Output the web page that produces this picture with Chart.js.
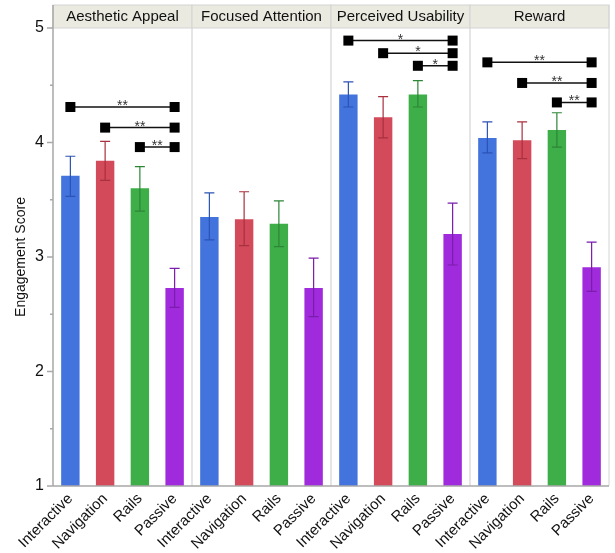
<!DOCTYPE html>
<html>
<head>
<meta charset="utf-8">
<script src="https://cdn.jsdelivr.net/npm/chart.js@4"></script>
<style>
  html, body { margin: 0; padding: 0; background: #fff; }
  #wrap { width: 615px; height: 553px; position: relative; }
</style>
</head>
<body>
<div id="wrap"><canvas id="c" width="615" height="553"></canvas></div>
<script>
(function () {
  'use strict';

  // ---- data ----
  var panels = ['Aesthetic Appeal', 'Focused Attention', 'Perceived Usability', 'Reward'];
  var conditions = ['Interactive', 'Navigation', 'Rails', 'Passive'];
  var means = [
    3.71, 3.84, 3.60, 2.73,
    3.35, 3.33, 3.29, 2.73,
    4.42, 4.22, 4.42, 3.20,
    4.04, 4.02, 4.11, 2.91
  ];
  var errLow = [
    3.53, 3.67, 3.40, 2.56,
    3.15, 3.10, 3.09, 2.48,
    4.31, 4.04, 4.31, 2.93,
    3.91, 3.86, 3.96, 2.70
  ];
  var errHigh = [
    3.88, 4.01, 3.79, 2.90,
    3.56, 3.57, 3.49, 2.99,
    4.53, 4.40, 4.54, 3.47,
    4.18, 4.18, 4.26, 3.13
  ];
  // brackets: [panel, fromCondition, toCondition, yValue, label]
  var brackets = [
    [0, 0, 3, 4.31, '**'], [0, 1, 3, 4.13, '**'], [0, 2, 3, 3.96, '**'],
    [2, 0, 3, 4.89, '*'],  [2, 1, 3, 4.78, '*'],  [2, 2, 3, 4.67, '*'],
    [3, 0, 3, 4.70, '**'], [3, 1, 3, 4.52, '**'], [3, 2, 3, 4.35, '**']
  ];
  var barColors = ['#4373DC', '#D34A5B', '#3EAE48', '#A02BDC'];
  var errColors = ['#2B54B5', '#A9303F', '#2D8637', '#7A1DAA'];

  var labels = [];
  var fills = [];
  panels.forEach(function () {
    conditions.forEach(function (c, i) {
      labels.push(c);
      fills.push(barColors[i]);
    });
  });

  var FONT = '"Liberation Sans", Arial, Helvetica, sans-serif';
  var STRIP = 23;

  function edge(xs, k) {
    return (xs.getPixelForValue(k - 1) + xs.getPixelForValue(k)) / 2;
  }

  var facetPlugin = {
    id: 'facets',
    beforeDatasetsDraw: function (chart) {
      var ctx = chart.ctx, a = chart.chartArea, xs = chart.scales.x;
      ctx.save();
      ctx.strokeStyle = '#dcdcdc';
      ctx.lineWidth = 1.5;
      for (var p = 1; p < panels.length; p++) {
        var xm = edge(xs, p * 4);
        ctx.beginPath();
        ctx.moveTo(xm, a.top - STRIP);
        ctx.lineTo(xm, a.bottom);
        ctx.stroke();
      }
      ctx.restore();
    },
    afterDatasetsDraw: function (chart) {
      var ctx = chart.ctx, a = chart.chartArea, xs = chart.scales.x, ys = chart.scales.y;
      ctx.save();
      // error bars
      for (var i = 0; i < means.length; i++) {
        var x = xs.getPixelForValue(i);
        var yl = ys.getPixelForValue(errLow[i]);
        var yh = ys.getPixelForValue(errHigh[i]);
        ctx.strokeStyle = errColors[i % 4];
        ctx.lineWidth = 1.2;
        ctx.beginPath();
        ctx.moveTo(x, yl); ctx.lineTo(x, yh);
        ctx.moveTo(x - 5, yl); ctx.lineTo(x + 5, yl);
        ctx.moveTo(x - 5, yh); ctx.lineTo(x + 5, yh);
        ctx.stroke();
      }
      // significance brackets
      brackets.forEach(function (b) {
        var x1 = xs.getPixelForValue(b[0] * 4 + b[1]);
        var x2 = xs.getPixelForValue(b[0] * 4 + b[2]);
        var y = ys.getPixelForValue(b[3]);
        ctx.strokeStyle = '#111';
        ctx.lineWidth = 1.5;
        ctx.beginPath();
        ctx.moveTo(x1, y); ctx.lineTo(x2, y);
        ctx.stroke();
        ctx.fillStyle = '#000';
        ctx.fillRect(x1 - 5, y - 5, 10, 10);
        ctx.fillRect(x2 - 5, y - 5, 10, 10);
        ctx.fillStyle = '#333';
        ctx.font = '14px ' + FONT;
        ctx.textAlign = 'center';
        ctx.textBaseline = 'alphabetic';
        ctx.fillText(b[4], (x1 + x2) / 2, y + 3);
      });
      // header strips
      var top = a.top - STRIP;
      for (var p = 0; p < panels.length; p++) {
        var left = p === 0 ? a.left : edge(xs, p * 4);
        var right = p === panels.length - 1 ? a.right : edge(xs, p * 4 + 4);
        ctx.fillStyle = '#EBEAE1';
        ctx.fillRect(left, top, right - left, STRIP);
        ctx.strokeStyle = '#d4d4d4';
        ctx.lineWidth = 1;
        ctx.strokeRect(left, top, right - left, STRIP);
        ctx.fillStyle = '#111';
        ctx.font = '15px ' + FONT;
        ctx.textAlign = 'center';
        ctx.textBaseline = 'middle';
        ctx.fillText(panels[p], (left + right) / 2, top + 12);
      }
      ctx.strokeStyle = '#d4d4d4';
      ctx.beginPath();
      ctx.moveTo(a.right, top); ctx.lineTo(a.right, a.bottom);
      ctx.stroke();
      // axis lines and ticks
      ctx.strokeStyle = '#a8a8a8';
      ctx.lineWidth = 1.5;
      ctx.beginPath();
      ctx.moveTo(a.left, top); ctx.lineTo(a.left, a.bottom);
      ctx.moveTo(a.left, a.bottom); ctx.lineTo(a.right, a.bottom);
      for (var v = 1; v <= 5.001; v += 0.5) {
        var yy = ys.getPixelForValue(v);
        var len = Math.abs(v - Math.round(v)) < 0.01 ? 6 : 3;
        ctx.moveTo(a.left - len, yy); ctx.lineTo(a.left, yy);
      }
      ctx.stroke();
      ctx.restore();
    }
  };

  new Chart(document.getElementById('c').getContext('2d'), {
    type: 'bar',
    data: {
      labels: labels,
      datasets: [{
        data: means,
        backgroundColor: fills,
        borderWidth: 0,
        barPercentage: 0.53,
        categoryPercentage: 1.0
      }]
    },
    options: {
      responsive: false,
      animation: false,
      events: [],
      layout: { padding: { top: 28, right: 6, left: 13, bottom: 0 } },
      plugins: { legend: { display: false }, tooltip: { enabled: false } },
      scales: {
        x: {
          grid: { display: false, drawTicks: false },
          border: { display: false },
          afterFit: function (scale) { scale.height = 67; },
          ticks: {
            color: '#111',
            font: { family: FONT, size: 15 },
            minRotation: 45,
            maxRotation: 45,
            padding: 4,
            autoSkip: false
          }
        },
        y: {
          min: 1,
          max: 5,
          grid: { display: false, drawTicks: false },
          border: { display: false },
          afterFit: function (scale) { scale.width = 40; },
          ticks: {
            stepSize: 1,
            color: '#111',
            font: { family: FONT, size: 16 },
            padding: 9
          },
          title: {
            display: true,
            text: 'Engagement Score',
            color: '#111',
            font: { family: FONT, size: 14 },
            padding: { top: 0, bottom: 0 }
          }
        }
      }
    },
    plugins: [facetPlugin]
  });
})();
</script>
</body>
</html>
